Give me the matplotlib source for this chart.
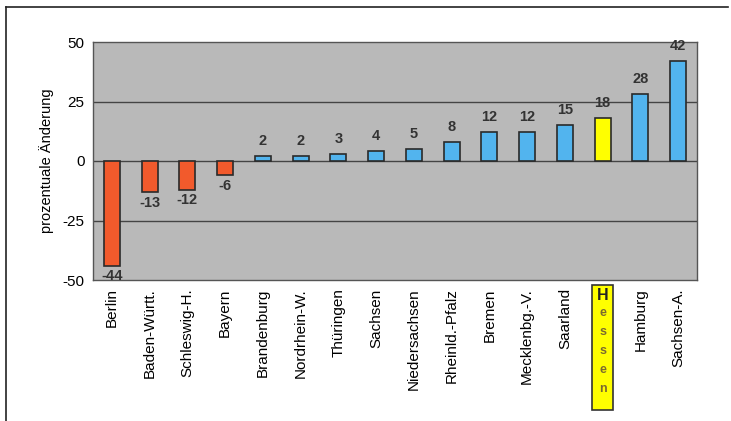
import matplotlib
matplotlib.use("Agg")
import matplotlib.pyplot as plt
from matplotlib.patches import Rectangle
from matplotlib.lines import Line2D
import matplotlib.transforms as mtransforms
import numpy as np

plt.rcParams['font.family'] = ['Liberation Sans', 'DejaVu Sans']

laender = ["Berlin", "Baden-Württ.", "Schleswig-H.", "Bayern", "Brandenburg",
           "Nordrhein-W.", "Thüringen", "Sachsen", "Niedersachsen", "Rheinld.-Pfalz",
           "Bremen", "Mecklenbg.-V.", "Saarland", "Hessen", "Hamburg", "Sachsen-A."]
aenderung = [-44, -13, -12, -6, 2, 2, 3, 4, 5, 8, 12, 12, 15, 18, 28, 42]
yticks = [-50, -25, 0, 25, 50]

RED = "#f25a2c"
BLUE = "#52b4ee"
YELLOW = "#ffff00"

fig = plt.figure(figsize=(7.31, 4.21), dpi=100)
ax = fig.add_axes([93 / 731, 141 / 421, 604 / 731, 238 / 421])
ax.set_facecolor("#b9b9b9")

x = np.arange(len(laender))
colors = []
for name, v in zip(laender, aenderung):
    if name == "Hessen":
        colors.append(YELLOW)
    elif v < 0:
        colors.append(RED)
    else:
        colors.append(BLUE)

ax.bar(x, aenderung, width=0.42, color=colors, edgecolor="#2a2a2a", linewidth=1.2, zorder=3)

for xi, v in zip(x, aenderung):
    if v < 0:
        ax.text(xi, v - 1.5, str(v), ha="center", va="top", fontsize=10.5,
                fontweight="bold", color="#333333", zorder=4)
    else:
        ax.text(xi, v + 3.5, str(v), ha="center", va="bottom", fontsize=10.5,
                fontweight="bold", color="#333333", zorder=4)

ax.set_xlim(-0.5, len(laender) - 0.5)
ax.set_ylim(-50, 50)
ax.set_yticks(yticks)
ax.set_yticklabels([str(t) for t in yticks], fontsize=11)
for t in [-25, 0, 25]:
    ax.axhline(t, color="#444444", linewidth=1.0, zorder=2)
ax.tick_params(axis="y", length=0, pad=6)
ax.tick_params(axis="x", length=0, pad=6)
ax.set_xticks(x)
ax.set_xticklabels([("" if n == "Hessen" else n) for n in laender], rotation=90,
                   fontsize=11, va="top")
for s in ax.spines.values():
    s.set_color("#555555")
    s.set_linewidth(1.0)
ax.set_ylabel("prozentuale Änderung", fontsize=10.5, labelpad=6)

# Hessen hervorgehoben: gelber Kasten mit senkrecht gestapelten Buchstaben
ih = laender.index("Hessen")
trans = mtransforms.blended_transform_factory(ax.transData, fig.transFigure)
ax.add_patch(Rectangle((ih - 0.28, 11 / 421), 0.56, 125 / 421, transform=trans,
                       facecolor=YELLOW, edgecolor="#333333", linewidth=1.2,
                       clip_on=False, zorder=5))
ax.text(ih, 126 / 421, "H", transform=trans, ha="center", va="center", fontsize=11.5,
        fontweight="bold", color="#222222", zorder=6)
for k, ch in enumerate("essen"):
    ax.text(ih, (108 - 19 * k) / 421, ch, transform=trans, ha="center", va="center",
            fontsize=9, fontweight="bold", color="#7a6a30", zorder=6)

# Rahmen oben und links
fig.add_artist(Line2D([6 / 731, 728 / 731], [1 - 7 / 421, 1 - 7 / 421],
                      transform=fig.transFigure, color="#222222", linewidth=1.2))
fig.add_artist(Line2D([6 / 731, 6 / 731], [0, 1 - 7 / 421],
                      transform=fig.transFigure, color="#222222", linewidth=1.2))

fig.savefig("out.png", dpi=100)
